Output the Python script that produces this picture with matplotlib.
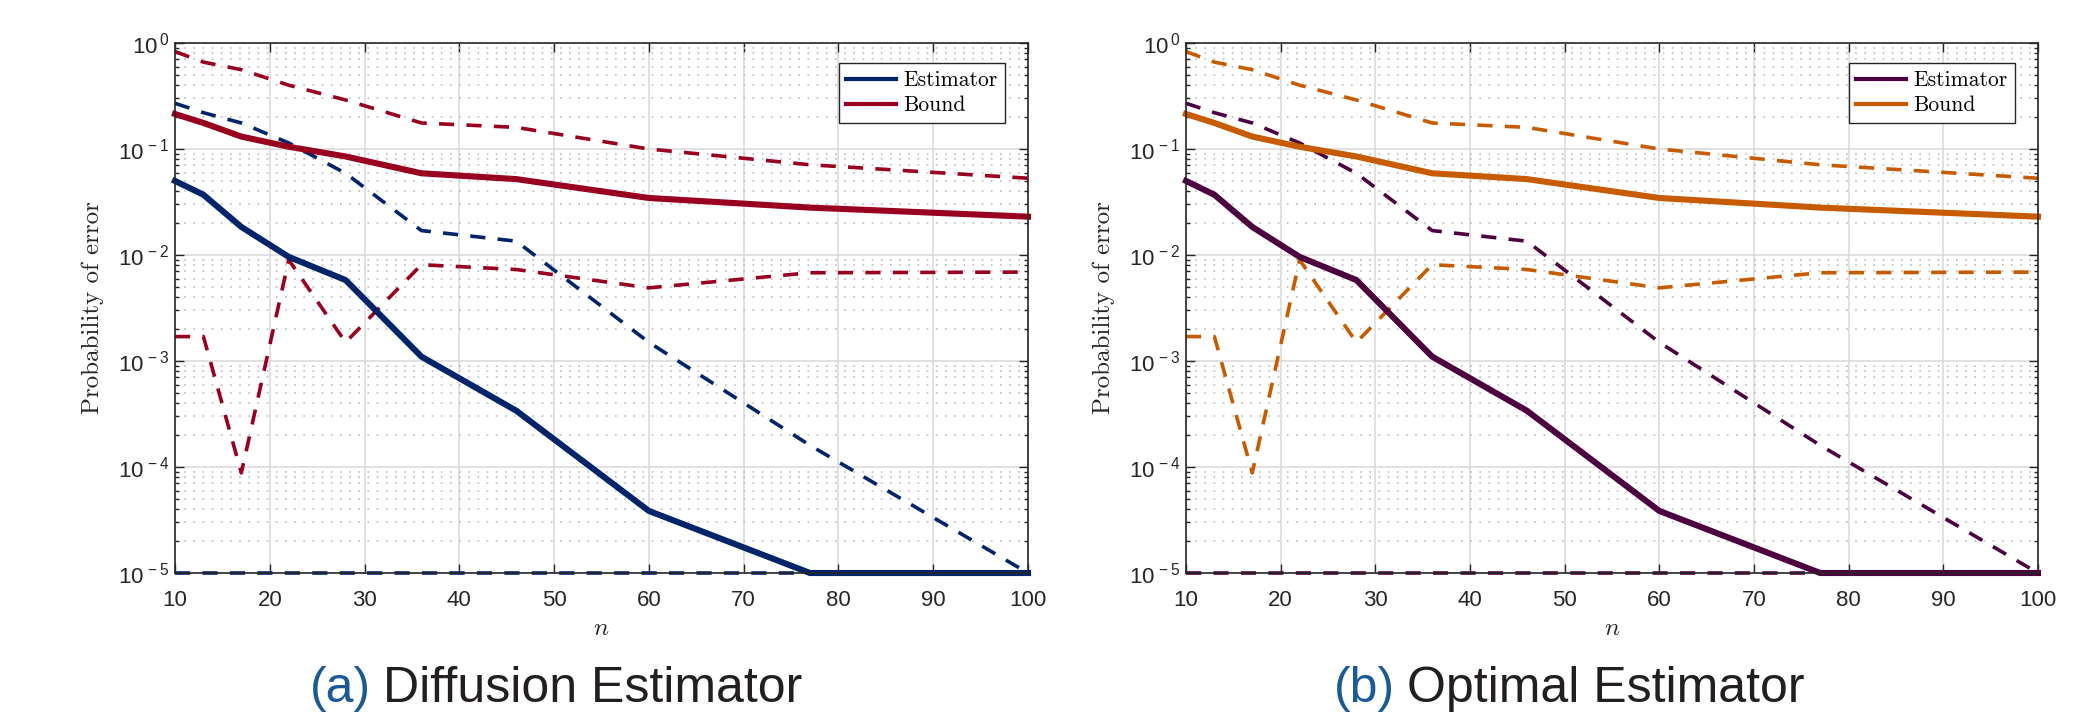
import numpy as np
import matplotlib
matplotlib.use("Agg")
import matplotlib.pyplot as plt
from matplotlib.lines import Line2D
from matplotlib.ticker import FixedLocator, LogLocator, NullFormatter, FuncFormatter

matplotlib.rcParams.update({
    "font.family": ["Liberation Sans", "DejaVu Sans"],
    "mathtext.fontset": "cm",
    "axes.unicode_minus": True,
})

# sample sizes
n = [10, 13, 17, 22, 28, 36, 46, 60, 77, 100]

# estimator: mean and spread (dashed)
est_mid = [0.050, 0.037, 0.0184, 0.0096, 0.0058, 0.0011, 3.4e-4, 3.85e-5, 1e-5, 1e-5]
est_hi = [0.27, 0.22, 0.176, 0.114, 0.059, 0.017, 0.0135, 1.5e-3, 1.6e-4, 1e-5]
est_lo = [1e-5, 1e-5, 1e-5, 1e-5, 1e-5, 1e-5, 1e-5, 1e-5, 1e-5, 1e-5]

# bound: mean and spread (dashed)
bnd_mid = [0.214, 0.176, 0.131, 0.105, 0.085, 0.059, 0.052, 0.0345, 0.028, 0.023]
bnd_hi = [0.83, 0.66, 0.56, 0.40, 0.29, 0.176, 0.16, 0.10, 0.071, 0.053]
bnd_lo = [1.7e-3, 1.7e-3, 8.8e-5, 9.0e-3, 1.5e-3, 8.1e-3, 7.3e-3, 4.9e-3, 6.8e-3, 6.9e-3]

x_ticks = [10, 20, 30, 40, 50, 60, 70, 80, 90, 100]
legend_labels = ["Estimator", "Bound"]
captions = [("(a)", "Diffusion Estimator"), ("(b)", "Optimal Estimator")]
panel_colors = [("#002469", "#990020"), ("#4d0040", "#c75b00")]

TXT = "#262626"
W, H = 2074, 717


def log_label(v, pos):
    e = int(round(np.log10(v)))
    return r"$\mathregular{10^{\,%d}}$" % e


def draw_panel(ax, c_est, c_bnd):
    dash = dict(lw=2.6, dashes=(4.2, 3.4), clip_on=False)
    ax.plot(n, est_hi, color=c_est, **dash)
    ax.plot(n, est_lo, color=c_est, **dash)
    ax.plot(n, bnd_hi, color=c_bnd, **dash)
    ax.plot(n, bnd_lo, color=c_bnd, **dash)
    ax.plot(n, est_mid, color=c_est, lw=4.4, clip_on=False, solid_joinstyle="miter")
    ax.plot(n, bnd_mid, color=c_bnd, lw=4.4, clip_on=False, solid_joinstyle="miter")

    ax.set_yscale("log")
    ax.set_xlim(10, 100)
    ax.set_ylim(1e-5, 1)
    ax.xaxis.set_major_locator(FixedLocator(x_ticks))
    ax.yaxis.set_major_locator(LogLocator(base=10, numticks=10))
    ax.yaxis.set_minor_locator(LogLocator(base=10, subs=np.arange(2, 10), numticks=20))
    ax.yaxis.set_major_formatter(FuncFormatter(log_label))
    ax.yaxis.set_minor_formatter(NullFormatter())

    ax.grid(True, which="major", color="#d9d9d9", lw=1.1, ls="-")
    ax.grid(True, which="minor", axis="y", color="#bdbdbd", lw=1.2, ls=(0, (1, 4.5)))
    ax.set_axisbelow(True)

    ax.tick_params(which="both", direction="in", top=True, right=True, colors=TXT,
                   labelsize=16, width=1.0)
    ax.tick_params(which="major", length=6.5)
    ax.tick_params(which="minor", length=3.2)
    ax.tick_params(axis="x", pad=12)
    ax.tick_params(axis="y", pad=4)
    for s in ax.spines.values():
        s.set_color(TXT)
        s.set_linewidth(1.2)

    ax.text(-0.096, 0.5, "Probability of error", transform=ax.transAxes, rotation=90,
            ha="center", va="center", fontsize=18, family="cmr10", color=TXT)
    ax.text(0.5, -0.117, "$n$", transform=ax.transAxes, ha="center", va="baseline",
            fontsize=18, color=TXT)

    handles = [Line2D([], [], color=c_est, lw=3.0), Line2D([], [], color=c_bnd, lw=3.0)]
    leg = ax.legend(handles, legend_labels, loc="upper right", bbox_to_anchor=(0.973, 0.962),
                    borderaxespad=0, fancybox=False, framealpha=1, edgecolor=TXT,
                    prop={"family": "cmr10", "size": 15.5}, handlelength=2.3,
                    handletextpad=0.35, labelspacing=0.25, borderpad=0.35)
    leg.get_frame().set_linewidth(1.0)


fig = plt.figure(figsize=(W / 100, H / 100), dpi=100)
axes_px = [(175, 1028), (1186, 2038)]
top_px, bot_px = 43, 573
caption_x = [310, 1334]

for i, (x0, x1) in enumerate(axes_px):
    ax = fig.add_axes([x0 / W, 1 - bot_px / H, (x1 - x0) / W, (bot_px - top_px) / H])
    draw_panel(ax, *panel_colors[i])
    tag, title = captions[i]
    t = fig.text(caption_x[i] / W, 1 - 702 / H, tag, fontsize=36, color="#1b5a96",
                 va="baseline", ha="left")
    fig.canvas.draw()
    bb = t.get_window_extent()
    fig.text((bb.x1 + 12) / W, 1 - 702 / H, title, fontsize=36, color="#231f20",
             va="baseline", ha="left")

fig.savefig("out.png", dpi=100)
